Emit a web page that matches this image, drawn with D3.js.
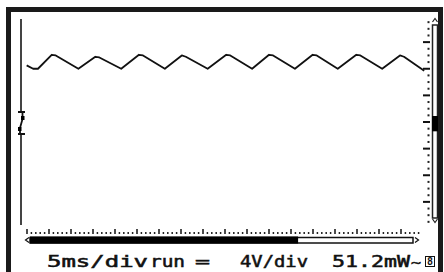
<!DOCTYPE html>
<html>
<head>
<meta charset="utf-8">
<script src="https://cdn.jsdelivr.net/npm/d3@7"></script>
<style>
  body { margin: 0; background: #fff; }
  svg { display: block; }
  text { font-family: "DejaVu Sans Mono", monospace; fill: #111; }
</style>
</head>
<body>
<div id="scope"></div>
<script>
// waveform samples (time in ms, level in volts)
var timeMs = [0.7, 1.5, 2.1, 3.8, 4.3, 7.1, 9.2, 9.7, 12.4, 14.6, 15.1, 17.8, 19.9, 20.4,
              23.1, 25.4, 25.9, 28.6, 30.7, 31.2, 33.9, 36.1, 36.6, 39.2, 41.5, 42.0,
              44.7, 46.9, 47.4, 49.9];
var volts = [8.5, 8.0, 8.0, 10.1, 10.0, 8.0, 9.8, 9.7, 8.0, 10.1, 10.0, 8.0, 10.0, 9.8,
             8.0, 10.1, 10.0, 8.0, 10.1, 10.0, 8.0, 10.1, 10.0, 8.0, 10.1, 10.0,
             8.0, 10.0, 9.8, 7.7];

// status line
var labels = ["5ms/div", "run", "=", "4V/div", "51.2mW", "~"];
var labelX = [47, 150, 195, 240, 332, 411];
var labelW = [101, 35, 15, 68, 78, 10];

var triggerLevel = 0;        // volts
var offsetBand = [-1.4, 0.9]; // black block on the right bar
var memoryShown = [0, 0.7];   // filled part of the bottom bar

var svgWidth = 444;
var svgHeight = 272;

var svg = d3.select("#scope")
    .append("svg")
    .attr("width", svgWidth)
    .attr("height", svgHeight);

var x = d3.scaleLinear().domain([0, 50]).range([21, 425]);
var y = d3.scaleLinear().domain([-16, 16]).range([228.5, 15.5]);

// outer frame
svg.append("rect")
    .attr("x", 8.5).attr("y", 9.5)
    .attr("width", 432).attr("height", 280)
    .attr("fill", "#fff")
    .attr("stroke", "#1a1a1a")
    .attr("stroke-width", 5);

// left axis with trigger mark
var trigY = y(triggerLevel);
svg.append("line")
    .attr("x1", 21).attr("x2", 21)
    .attr("y1", 19).attr("y2", trigY - 10)
    .attr("stroke", "#444").attr("stroke-width", 2);
svg.append("line")
    .attr("x1", 21).attr("x2", 21)
    .attr("y1", trigY + 12).attr("y2", 225)
    .attr("stroke", "#444").attr("stroke-width", 2);
[trigY - 10, trigY + 12].forEach(function(ty) {
    svg.append("line")
        .attr("x1", 18).attr("x2", 25)
        .attr("y1", ty).attr("y2", ty)
        .attr("stroke", "#111").attr("stroke-width", 2);
});
svg.append("path")
    .attr("d", `M22.5,${trigY - 9}V${trigY - 3}M22.5,${trigY - 3}L20,${trigY + 6}M20,${trigY + 6}V${trigY + 11}`)
    .attr("stroke", "#111").attr("stroke-width", 1.8).attr("fill", "none");
svg.append("rect").attr("x", 21).attr("y", trigY - 6).attr("width", 3.5).attr("height", 4).attr("fill", "#000");
svg.append("rect").attr("x", 18).attr("y", trigY + 5).attr("width", 3.5).attr("height", 4).attr("fill", "#000");

// right volts scale
var majorV = d3.range(-12, 13, 4);
var minorV = d3.range(-15, 16, 1).filter(function(v) { return v % 4 !== 0; });

svg.selectAll(".vdot")
    .data(minorV)
    .enter().append("rect")
    .attr("x", 427.5).attr("y", d => y(d) - 1)
    .attr("width", 2).attr("height", 2)
    .attr("fill", "#222");

svg.selectAll(".vdash")
    .data(majorV)
    .enter().append("line")
    .attr("x1", 423).attr("x2", 430)
    .attr("y1", d => y(d)).attr("y2", d => y(d))
    .attr("stroke", "#111").attr("stroke-width", 2);

svg.append("rect")
    .attr("x", 432.5).attr("y", 25)
    .attr("width", 5).attr("height", 193)
    .attr("fill", "#fff")
    .attr("stroke", "#222").attr("stroke-width", 1.5);
svg.append("rect")
    .attr("x", 432).attr("y", y(offsetBand[1]))
    .attr("width", 6).attr("height", y(offsetBand[0]) - y(offsetBand[1]))
    .attr("fill", "#000");
svg.append("path")
    .attr("d", "M432.5,22L435,18.5L437.5,22M432.5,219L435,222.5L437.5,219")
    .attr("stroke", "#222").attr("stroke-width", 1.2).attr("fill", "none");

// waveform
var line = d3.line()
    .x((d, i) => x(timeMs[i]))
    .y(d => y(d));

svg.append("path")
    .datum(volts)
    .attr("d", line)
    .attr("fill", "none")
    .attr("stroke", "#111")
    .attr("stroke-width", 1.8)
    .attr("stroke-linejoin", "round");

// bottom ruler
var ruler = d3.scaleLinear().domain([0, 18]).range([27, 423]);
var majorR = d3.range(0, 18, 1);
var minorR = d3.range(0, 17.9, 0.2).filter(function(d) { return Math.abs(d - Math.round(d)) > 0.01; });

svg.selectAll(".rmaj")
    .data(majorR)
    .enter().append("line")
    .attr("x1", d => ruler(d)).attr("x2", d => ruler(d))
    .attr("y1", 229).attr("y2", 234)
    .attr("stroke", "#111").attr("stroke-width", 1.5);
svg.selectAll(".rmin")
    .data(minorR)
    .enter().append("rect")
    .attr("x", d => ruler(d) - 0.75).attr("y", 232)
    .attr("width", 1.5).attr("height", 2)
    .attr("fill", "#222");

// memory bar
var bar = d3.scaleLinear().domain([0, 1]).range([30, 413]);
svg.append("rect")
    .attr("x", bar(0)).attr("y", 237.5)
    .attr("width", bar(1) - bar(0)).attr("height", 5.5)
    .attr("fill", "#fff")
    .attr("stroke", "#111").attr("stroke-width", 1.5);
svg.append("rect")
    .attr("x", bar(memoryShown[0])).attr("y", 236.5)
    .attr("width", bar(memoryShown[1]) - bar(memoryShown[0])).attr("height", 7)
    .attr("fill", "#000");
svg.append("path")
    .attr("d", "M29,237.5L25.5,240L29,242.5M415,237.5L418.5,240L415,242.5")
    .attr("stroke", "#111").attr("stroke-width", 1.2).attr("fill", "none");

// status text
svg.selectAll(".lbl")
    .data(labels)
    .enter().append("text")
    .attr("x", (d, i) => labelX[i])
    .attr("y", 267)
    .attr("font-size", (d, i) => i === 5 ? 10 : 15)
    .attr("textLength", (d, i) => labelW[i])
    .attr("lengthAdjust", "spacingAndGlyphs")
    .attr("stroke", "#111")
    .attr("stroke-width", 0.5)
    .text(d => d);

svg.append("rect")
    .attr("x", 425.5).attr("y", 256.5)
    .attr("width", 9).attr("height", 10)
    .attr("fill", "none").attr("stroke", "#111").attr("stroke-width", 1);
svg.append("text")
    .attr("x", 430).attr("y", 265)
    .attr("text-anchor", "middle")
    .attr("font-size", 10)
    .attr("font-weight", "bold")
    .text("8");
</script>
</body>
</html>
